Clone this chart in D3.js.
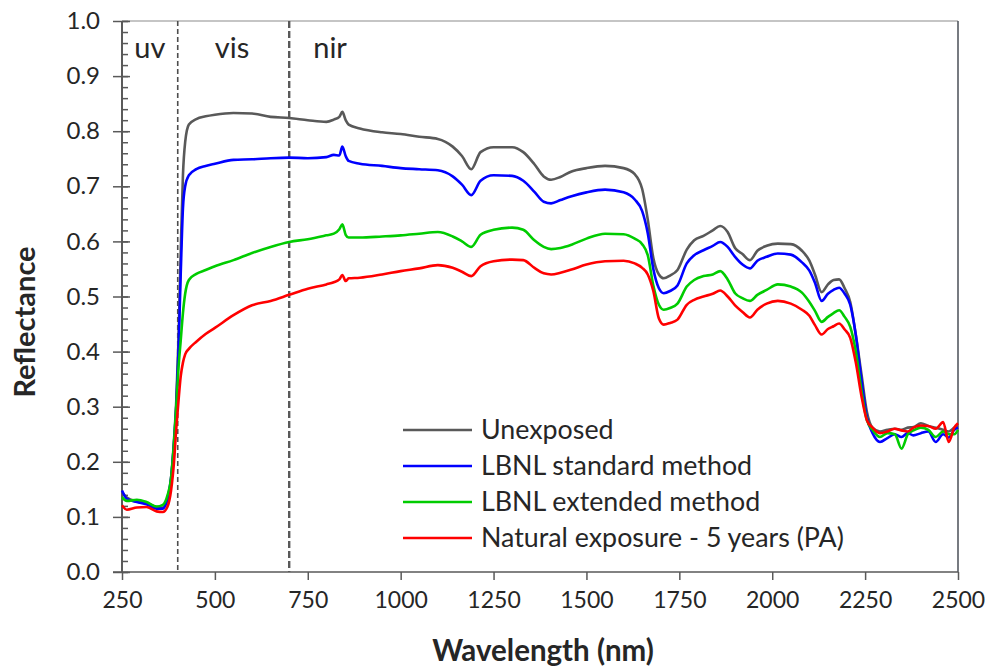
<!DOCTYPE html>
<html><head><meta charset="utf-8">
<script src="https://cdn.jsdelivr.net/npm/d3@7/dist/d3.min.js"></script>
<style>body{margin:0;background:#fff}svg{display:block}text{font-family:Lato,"Open Sans",sans-serif;fill:#262626}</style>
</head><body><svg id="c" width="988" height="666"></svg>
<script>
const wavelength=[250,263,290,316,343,360,372,382,390,396,402,408,414,420,430,450,475,500,550,600,650,700,750,800,820,835,843,852,860,890,950,1000,1050,1100,1140,1165,1190,1215,1250,1300,1330,1360,1385,1405,1430,1460,1500,1550,1600,1630,1650,1665,1680,1695,1708,1725,1745,1770,1790,1815,1840,1860,1880,1900,1920,1940,1960,1985,2015,2050,2080,2100,2115,2133,2150,2165,2180,2195,2210,2225,2240,2255,2270,2290,2310,2330,2348,2365,2380,2400,2420,2440,2460,2475,2490,2500];
const unexposed=[0.145,0.135,0.128,0.125,0.118,0.117,0.13,0.17,0.24,0.31,0.42,0.58,0.72,0.78,0.812,0.822,0.827,0.83,0.833,0.832,0.826,0.824,0.82,0.817,0.821,0.826,0.835,0.82,0.812,0.805,0.798,0.795,0.79,0.786,0.772,0.755,0.731,0.762,0.771,0.771,0.762,0.74,0.718,0.712,0.717,0.727,0.733,0.737,0.733,0.722,0.695,0.64,0.57,0.54,0.533,0.538,0.548,0.585,0.602,0.61,0.62,0.628,0.617,0.588,0.577,0.566,0.583,0.592,0.596,0.595,0.583,0.565,0.54,0.508,0.522,0.53,0.531,0.515,0.49,0.43,0.36,0.29,0.262,0.255,0.258,0.26,0.258,0.262,0.263,0.27,0.265,0.262,0.258,0.255,0.262,0.265];
const lbnlStandard=[0.148,0.133,0.127,0.123,0.115,0.115,0.132,0.17,0.235,0.30,0.40,0.54,0.66,0.70,0.72,0.731,0.737,0.741,0.748,0.749,0.751,0.752,0.751,0.753,0.757,0.756,0.772,0.755,0.746,0.741,0.737,0.733,0.731,0.729,0.718,0.703,0.684,0.71,0.72,0.719,0.71,0.69,0.672,0.669,0.675,0.682,0.689,0.694,0.689,0.676,0.655,0.615,0.55,0.515,0.506,0.51,0.52,0.56,0.575,0.584,0.592,0.599,0.59,0.572,0.558,0.551,0.565,0.572,0.578,0.576,0.562,0.547,0.525,0.492,0.505,0.512,0.516,0.505,0.485,0.43,0.35,0.28,0.252,0.236,0.243,0.25,0.245,0.252,0.248,0.252,0.255,0.236,0.25,0.244,0.258,0.262];
const lbnlExtended=[0.136,0.129,0.131,0.127,0.119,0.122,0.138,0.17,0.235,0.30,0.37,0.42,0.47,0.505,0.53,0.541,0.548,0.555,0.566,0.579,0.59,0.599,0.604,0.611,0.614,0.622,0.631,0.612,0.607,0.607,0.609,0.611,0.614,0.617,0.609,0.6,0.59,0.612,0.621,0.625,0.621,0.602,0.59,0.586,0.588,0.594,0.605,0.614,0.613,0.605,0.595,0.575,0.52,0.485,0.476,0.479,0.487,0.518,0.53,0.537,0.54,0.546,0.531,0.506,0.497,0.492,0.503,0.512,0.522,0.518,0.507,0.49,0.474,0.454,0.463,0.47,0.475,0.463,0.445,0.4,0.33,0.275,0.258,0.245,0.252,0.25,0.224,0.25,0.257,0.262,0.258,0.245,0.255,0.25,0.25,0.258];
const natural5yr=[0.121,0.113,0.117,0.118,0.11,0.109,0.118,0.148,0.2,0.26,0.31,0.355,0.38,0.395,0.405,0.418,0.432,0.443,0.466,0.484,0.492,0.503,0.514,0.522,0.526,0.531,0.539,0.528,0.533,0.534,0.54,0.546,0.551,0.557,0.552,0.545,0.537,0.555,0.564,0.567,0.566,0.552,0.542,0.54,0.543,0.549,0.558,0.564,0.565,0.56,0.552,0.54,0.51,0.46,0.449,0.452,0.458,0.485,0.494,0.5,0.505,0.511,0.5,0.484,0.472,0.462,0.476,0.487,0.492,0.487,0.476,0.465,0.448,0.431,0.441,0.446,0.451,0.44,0.425,0.38,0.32,0.275,0.262,0.252,0.255,0.26,0.257,0.255,0.262,0.266,0.265,0.26,0.272,0.236,0.262,0.27];
const seriesNames=["Unexposed","LBNL standard method","LBNL extended method","Natural exposure - 5 years (PA)"];
const seriesColors=["#595959","#0000ff","#00cc00","#ff0000"];
const xTicks=[250,500,750,1000,1250,1500,1750,2000,2250,2500];
const yTicks=[0,0.1,0.2,0.3,0.4,0.5,0.6,0.7,0.8,0.9,1.0];
const yMinorTicks=d3.range(0,1.0001,0.02);
const regionBounds=[400,700];
const regionLabels=[{t:"uv",w:325},{t:"vis",w:546},{t:"nir",w:810}];

const svg=d3.select("#c");
const L=122,R=958,T=21,B=572;
const x=d3.scaleLinear().domain([250,2500]).range([L,R]);
const y=d3.scaleLinear().domain([0,1]).range([B,T]);
const axisCol="#595959";

svg.append("line").attr("x1",L).attr("x2",R).attr("y1",T).attr("y2",T).attr("stroke","#8c8c8c").attr("stroke-width",1.2);
svg.append("line").attr("x1",R).attr("x2",R).attr("y1",T).attr("y2",B).attr("stroke","#4a4f57").attr("stroke-width",1.5);

svg.append("line").attr("x1",x(regionBounds[0])).attr("x2",x(regionBounds[0])).attr("y1",T).attr("y2",B)
  .attr("stroke","#4d4d4d").attr("stroke-width",1.6).attr("stroke-dasharray","5,3");
svg.append("line").attr("x1",x(regionBounds[1])).attr("x2",x(regionBounds[1])).attr("y1",T).attr("y2",B)
  .attr("stroke",axisCol).attr("stroke-width",2.4).attr("stroke-dasharray","7,3");
regionLabels.forEach(r=>{
  svg.append("text").attr("x",x(r.w)).attr("y",58).attr("text-anchor","middle").style("font-size","29px").text(r.t);
});

const ya=svg.append("g").attr("transform",`translate(${L},0)`)
  .call(d3.axisLeft(y).tickValues(yTicks).tickSize(9).tickPadding(13).tickFormat(d3.format(".1f")));
ya.selectAll("text").style("font-size","24px").attr("fill","#3a3a3a");
const ym=svg.append("g").attr("transform",`translate(${L},0)`)
  .call(d3.axisRight(y).tickValues(yMinorTicks).tickSize(6).tickFormat(""));
const yM=svg.append("g").attr("transform",`translate(${L},0)`)
  .call(d3.axisRight(y).tickValues(yTicks).tickSize(8).tickFormat(""));
[ya,ym,yM].forEach(g=>{g.selectAll("path,line").attr("stroke",axisCol).attr("stroke-width",1.5);g.select(".domain").attr("d",`M0,${B}V${T}`);});

const xa=svg.append("g").attr("transform",`translate(0,${B})`)
  .call(d3.axisBottom(x).tickValues(xTicks).tickSize(8).tickPadding(12).tickFormat(d3.format("d")));
xa.selectAll("path,line").attr("stroke",axisCol).attr("stroke-width",1.5);
xa.select(".domain").attr("d",`M${L-9},0H${R}`);
xa.selectAll("text").style("font-size","23px").attr("fill","#3a3a3a");

const allSeries=[unexposed,lbnlStandard,lbnlExtended,natural5yr];
const line=d3.line().x((d,i)=>x(wavelength[i])).y(d=>y(d)).curve(d3.curveMonotoneX);
allSeries.forEach((s,k)=>{
  svg.append("path").datum(s).attr("d",line).attr("fill","none").attr("stroke",seriesColors[k])
    .attr("stroke-width",2.6).attr("stroke-linejoin","round");
});

seriesNames.forEach((n,k)=>{
  const yy=430+k*36;
  svg.append("line").attr("x1",403).attr("x2",472).attr("y1",yy).attr("y2",yy).attr("stroke",seriesColors[k]).attr("stroke-width",2.6);
  svg.append("text").attr("x",481).attr("y",yy+9).style("font-size","26.8px").text(n);
});

svg.append("text").attr("x",543).attr("y",661).attr("text-anchor","middle").style("font-size","29.5px").style("font-weight","bold").text("Wavelength (nm)");
svg.append("text").attr("transform","translate(35,322) rotate(-90)").attr("text-anchor","middle").style("font-size","29px").style("font-weight","bold").text("Reflectance");
</script></body></html>
